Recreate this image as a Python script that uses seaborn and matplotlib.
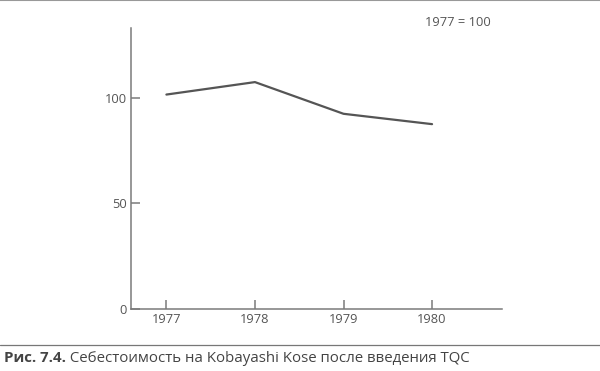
import matplotlib
matplotlib.use('Agg')
import matplotlib.pyplot as plt
import seaborn as sns
import pandas as pd

# ===================== данные =====================
years = [1977, 1978, 1979, 1980]
cost_index = [101.5, 107.4, 92.4, 87.5]
y_ticks = [0, 50, 100]
base_note = '1977 = 100'
caption_bold = 'Рис. 7.4.'
caption_text = ' Себестоимость на Kobayashi Kose после введения TQC'

sns.set_theme(style='white')
plt.rcParams['font.family'] = ['Open Sans', 'Noto Sans', 'DejaVu Sans']

axis_col = '#7a7a7a'
line_col = '#555555'
text_col = '#555555'

df = pd.DataFrame({'year': years, 'cost': cost_index})

fig = plt.figure(figsize=(6, 3.71), dpi=100)
ax = fig.add_axes([0.2183, 0.1671, 0.8367 - 0.2183, 0.9245 - 0.1671])

sns.lineplot(data=df, x='year', y='cost', ax=ax, color=line_col, linewidth=1.6)

ax.set_xlim(1976.6, 1980.79)
ax.set_ylim(0, 133)
ax.set_xticks(years)
ax.set_yticks(y_ticks)
ax.set_xlabel('')
ax.set_ylabel('')

for side in ['top', 'right']:
    ax.spines[side].set_visible(False)
for side in ['left', 'bottom']:
    ax.spines[side].set_color(axis_col)
    ax.spines[side].set_linewidth(1.1)

ax.tick_params(axis='both', direction='in', length=6.5, width=1.1, color=axis_col,
               labelcolor=text_col, labelsize=9.3, bottom=True, left=True)
ax.tick_params(axis='x', pad=3)
ax.tick_params(axis='y', pad=3)

fig.text(458 / 600, 1 - 23 / 371, base_note, ha='center', va='center',
         fontsize=9.3, color=text_col)

# линии сверху и над подписью
fig.add_artist(plt.Line2D([0, 1], [0.999, 0.999], color='#999999', linewidth=1.5,
                          transform=fig.transFigure))
fig.add_artist(plt.Line2D([0, 1], [1 - 345 / 371, 1 - 345 / 371], color='#777777',
                          linewidth=0.9, transform=fig.transFigure))

t = fig.text(4 / 600, 1 - 358 / 371, caption_bold, ha='left', va='center',
             fontsize=10.8, fontweight='bold', color='#444444')
fig.canvas.draw()
bb = t.get_window_extent()
fig.text(bb.x1 / fig.bbox.width, 1 - 358 / 371, caption_text, ha='left', va='center',
         fontsize=10.8, color='#444444')

fig.savefig('out.png', dpi=100)
